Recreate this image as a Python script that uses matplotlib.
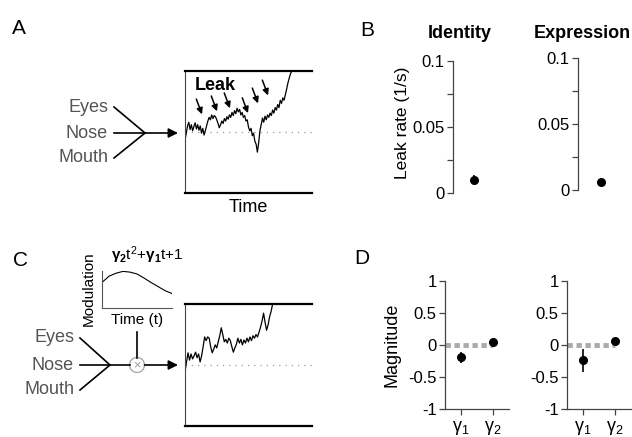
"""Leaky accumulation model: schematic, leak rates and modulation weights"""
import matplotlib
matplotlib.use("Agg")
import matplotlib.pyplot as plt
import numpy as np
from matplotlib.patches import Circle

plt.rcParams["font.family"] = ["Liberation Sans", "DejaVu Sans"]
plt.rcParams["mathtext.fontset"] = "custom"
plt.rcParams["mathtext.rm"] = "Liberation Sans"
plt.rcParams["mathtext.it"] = "Liberation Sans:italic"
plt.rcParams["mathtext.bf"] = "Liberation Sans:bold"
plt.rcParams["axes.unicode_minus"] = False

# example decision-variable traces (bounds at +/-1)
trace_leak = [-0.13, -0.02, 0.10, 0.16, 0.04, 0.12, 0.02, 0.09, 0.15, 0.05,
              0.12, 0.03, 0.10, -0.02, 0.06, -0.05, 0.02, 0.10, 0.18, 0.24,
              0.20, 0.28, 0.22, 0.27, 0.25, 0.20, 0.14, 0.07, 0.12, 0.18,
              0.14, 0.22, 0.18, 0.25, 0.21, 0.28, 0.24, 0.32, 0.27, 0.35,
              0.30, 0.39, 0.33, 0.37, 0.28, 0.32, 0.24, 0.27, 0.18, 0.20,
              0.08, 0.02, 0.06, -0.06, -0.02, -0.15, -0.20, -0.33, -0.18, 0.02,
              0.12, 0.23, 0.16, 0.26, 0.20, 0.28, 0.24, 0.31, 0.27, 0.36,
              0.31, 0.40, 0.36, 0.45, 0.40, 0.52, 0.47, 0.56, 0.52, 0.61,
              0.70, 0.80, 0.88, 0.95, 1.00]
trace_leak_end = 0.84
trace_mod = [-0.11, 0.05, 0.20, 0.08, 0.18, 0.10, 0.15, 0.21, 0.12, 0.18,
             0.05, 0.15, 0.30, 0.46, 0.40, 0.46, 0.44, 0.30, 0.20, 0.26,
             0.33, 0.28, 0.38, 0.48, 0.61, 0.50, 0.38, 0.42, 0.36, 0.44,
             0.40, 0.30, 0.21, 0.28, 0.34, 0.44, 0.36, 0.42, 0.33, 0.41,
             0.36, 0.44, 0.38, 0.46, 0.40, 0.48, 0.44, 0.50, 0.46, 0.54,
             0.62, 0.72, 0.85, 0.70, 0.57, 0.66, 0.79, 0.88, 1.00]
trace_mod_end = 0.69

# leak arrow tips (time, level)
leak_arrow_t = [0.134, 0.252, 0.354, 0.496, 0.575, 0.654]
leak_arrow_v = [0.29, 0.34, 0.39, 0.31, 0.47, 0.60]

# modulation curve sketch
mod_t = [0.0, 0.1, 0.2, 0.3, 0.4, 0.5, 0.6, 0.7, 0.8, 0.9, 1.0]
mod_y = [0.69, 0.86, 0.94, 0.99, 0.97, 0.92, 0.81, 0.69, 0.58, 0.47, 0.39]

# fitted leak rates (1/s)
conditions = ["Identity", "Expression"]
leak_rate = [0.0098, 0.006]
leak_err = [0.004, 0.0018]

# modulation coefficients
coef_labels = ["γ$_1$", "γ$_2$"]
coef_identity = [-0.19, 0.05]
coef_identity_err = [0.085, 0.02]
coef_expression = [-0.24, 0.06]
coef_expression_err = [0.18, 0.05]

features = ["Eyes", "Nose", "Mouth"]

W, H = 632, 437
fig = plt.figure(figsize=(W / 100, H / 100), dpi=100)

# full-figure overlay in pixel units (origin top-left) for the diagrams
ov = fig.add_axes([0, 0, 1, 1], zorder=-1)
ov.set_xlim(0, W)
ov.set_ylim(H, 0)
ov.axis("off")


def rect(x0, y0, x1, y1):
    # pixel box (top-left origin) -> figure fraction rect
    return [x0 / W, 1 - y1 / H, (x1 - x0) / W, (y1 - y0) / H]


def arrow(x0, y0, x1, y1):
    ov.annotate("", xy=(x1, y1), xytext=(x0, y0),
                arrowprops=dict(arrowstyle="-|>", color="black", lw=1.2,
                                mutation_scale=14, shrinkA=0, shrinkB=0))


def bound_box(box):
    ax = fig.add_axes(rect(*box))
    ax.set_xlim(0, 1)
    ax.set_ylim(-1, 1)
    ax.set_xticks([])
    ax.set_yticks([])
    ax.patch.set_visible(False)
    ax.spines["right"].set_visible(False)
    ax.spines["top"].set_linewidth(1.6)
    ax.spines["bottom"].set_linewidth(1.6)
    ax.spines["left"].set_linewidth(0.8)
    ax.spines["left"].set_color("#444444")
    ax.axhline(0, color="#999999", lw=0.9, ls=(0, (1, 4)))
    return ax


def feature_fan(xr, ys, xj, yj):
    for f, y in zip(features, ys):
        ov.text(xr, y, f, ha="right", va="center", fontsize=13,
                color="#555555")
        ov.plot([xr + 6, xj], [y, yj], color="black", lw=1.2)


# ---- A: leaky accumulator ----
ov.text(19, 28, "A", ha="center", va="center", fontsize=15)
feature_fan(108, [107, 133, 158], 145, 133)
arrow(145, 133, 178, 133)

axA = bound_box((185, 71, 312, 193))
axA.plot(np.linspace(0, trace_leak_end, len(trace_leak)), trace_leak,
         color="black", lw=0.9)
for t, v in zip(leak_arrow_t, leak_arrow_v):
    axA.annotate("", xy=(t, v), xytext=(t - 0.045, v + 0.25),
                 arrowprops=dict(arrowstyle="-|>", color="black", lw=1.1,
                                 mutation_scale=9, shrinkA=0, shrinkB=0))
axA.text(0.08, 0.77, "Leak", fontsize=13, fontweight="bold", va="center")
ov.text(248, 207, "Time", ha="center", va="center", fontsize=13)

# ---- C: time-modulated input ----
ov.text(20, 260, "C", ha="center", va="center", fontsize=15)
feature_fan(74, [338, 365, 390], 110, 365)
ov.plot([110, 129.5], [365, 365], color="black", lw=1.2)
ov.plot([137, 137], [332, 357.5], color="black", lw=1.2)
ov.add_patch(Circle((137, 365), 7.5, fill=False, ec="#aaaaaa", lw=1.0))
ov.text(137, 365, "×", ha="center", va="center", fontsize=9, color="#999999")
arrow(144.5, 365, 178, 365)

axM = fig.add_axes(rect(102, 271, 172, 308))
axM.plot(mod_t, mod_y, color="black", lw=0.8)
axM.set_xlim(0, 1)
axM.set_ylim(0, 1)
axM.set_xticks([])
axM.set_yticks([])
for s in ["top", "right"]:
    axM.spines[s].set_visible(False)
for s in ["left", "bottom"]:
    axM.spines[s].set_color("#555555")
    axM.spines[s].set_linewidth(0.8)
ov.text(89, 289, "Modulation", rotation=90, ha="center", va="center",
        fontsize=11)
ov.text(137, 320, "Time (t)", ha="center", va="center", fontsize=11)
ov.text(147, 255, r"$\mathbf{γ}_\mathbf{2}\mathrm{t}^\mathrm{2}\mathrm{+}"
        r"\mathbf{γ}_\mathbf{1}\mathrm{t}\mathrm{+1}$",
        ha="center", va="center", fontsize=11)

axC = bound_box((185, 304, 312, 426))
axC.plot(np.linspace(0, trace_mod_end, len(trace_mod)), trace_mod,
         color="black", lw=0.9)


def style_left(ax):
    ax.spines["top"].set_visible(False)
    ax.spines["right"].set_visible(False)
    for s in ["left", "bottom"]:
        ax.spines[s].set_color("#444444")
        ax.spines[s].set_linewidth(0.9)
    ax.tick_params(which="both", direction="out", length=4, width=0.9,
                   color="#444444", labelsize=12, pad=2)
    ax.patch.set_visible(False)


# ---- B: leak rates ----
ov.text(367, 30, "B", ha="center", va="center", fontsize=15)
b_boxes = [(453, 61, 495, 193), (578, 58, 624, 190)]
b_title_x = [460, 582]
for i, (name, box) in enumerate(zip(conditions, b_boxes)):
    ax = fig.add_axes(rect(*box))
    ax.errorbar([1], [leak_rate[i]], yerr=[leak_err[i]], fmt="o", color="black",
                markersize=5.5, elinewidth=1.2, capsize=0)
    ax.set_xlim(0, 2)
    ax.set_ylim(0, 0.1)
    ax.set_yticks([0, 0.05, 0.1])
    ax.set_yticklabels(["0", "0.05", "0.1"])
    ax.set_yticks([0.025, 0.075], minor=True)
    style_left(ax)
    ax.spines["bottom"].set_visible(False)
    ax.set_xticks([])
    ov.text(b_title_x[i], 33, name, ha="center", va="center", fontsize=13,
            fontweight="bold")
ov.text(402, 123, "Leak rate (1/s)", rotation=90, ha="center", va="center",
        fontsize=12.5)

# ---- D: modulation coefficients ----
ov.text(362, 258, "D", ha="center", va="center", fontsize=15)
d_boxes = [(445, 281, 509, 409), (567, 281, 631, 409)]
d_vals = [(coef_identity, coef_identity_err),
          (coef_expression, coef_expression_err)]
for box, (vals, errs) in zip(d_boxes, d_vals):
    ax = fig.add_axes(rect(*box))
    ax.hlines(0, 0.5, 2, color="#aaaaaa", lw=3.5, linestyles=(0, (1.1, 0.75)))
    ax.errorbar([1, 2], vals, yerr=errs, fmt="o", color="black",
                markersize=5.5, elinewidth=1.2, capsize=0, zorder=3)
    ax.set_xlim(0.5, 2.5)
    ax.set_ylim(-1, 1)
    ax.set_yticks([-1, -0.5, 0, 0.5, 1])
    ax.set_yticklabels(["-1", "-0.5", "0", "0.5", "1"])
    ax.set_xticks([1, 2])
    ax.set_xticklabels(coef_labels)
    style_left(ax)
    ax.tick_params(axis="x", labelsize=13, pad=3)
ov.text(392, 345, "Magnitude", rotation=90, ha="center", va="center",
        fontsize=13)

fig.savefig("out.png", dpi=100, facecolor="white")
